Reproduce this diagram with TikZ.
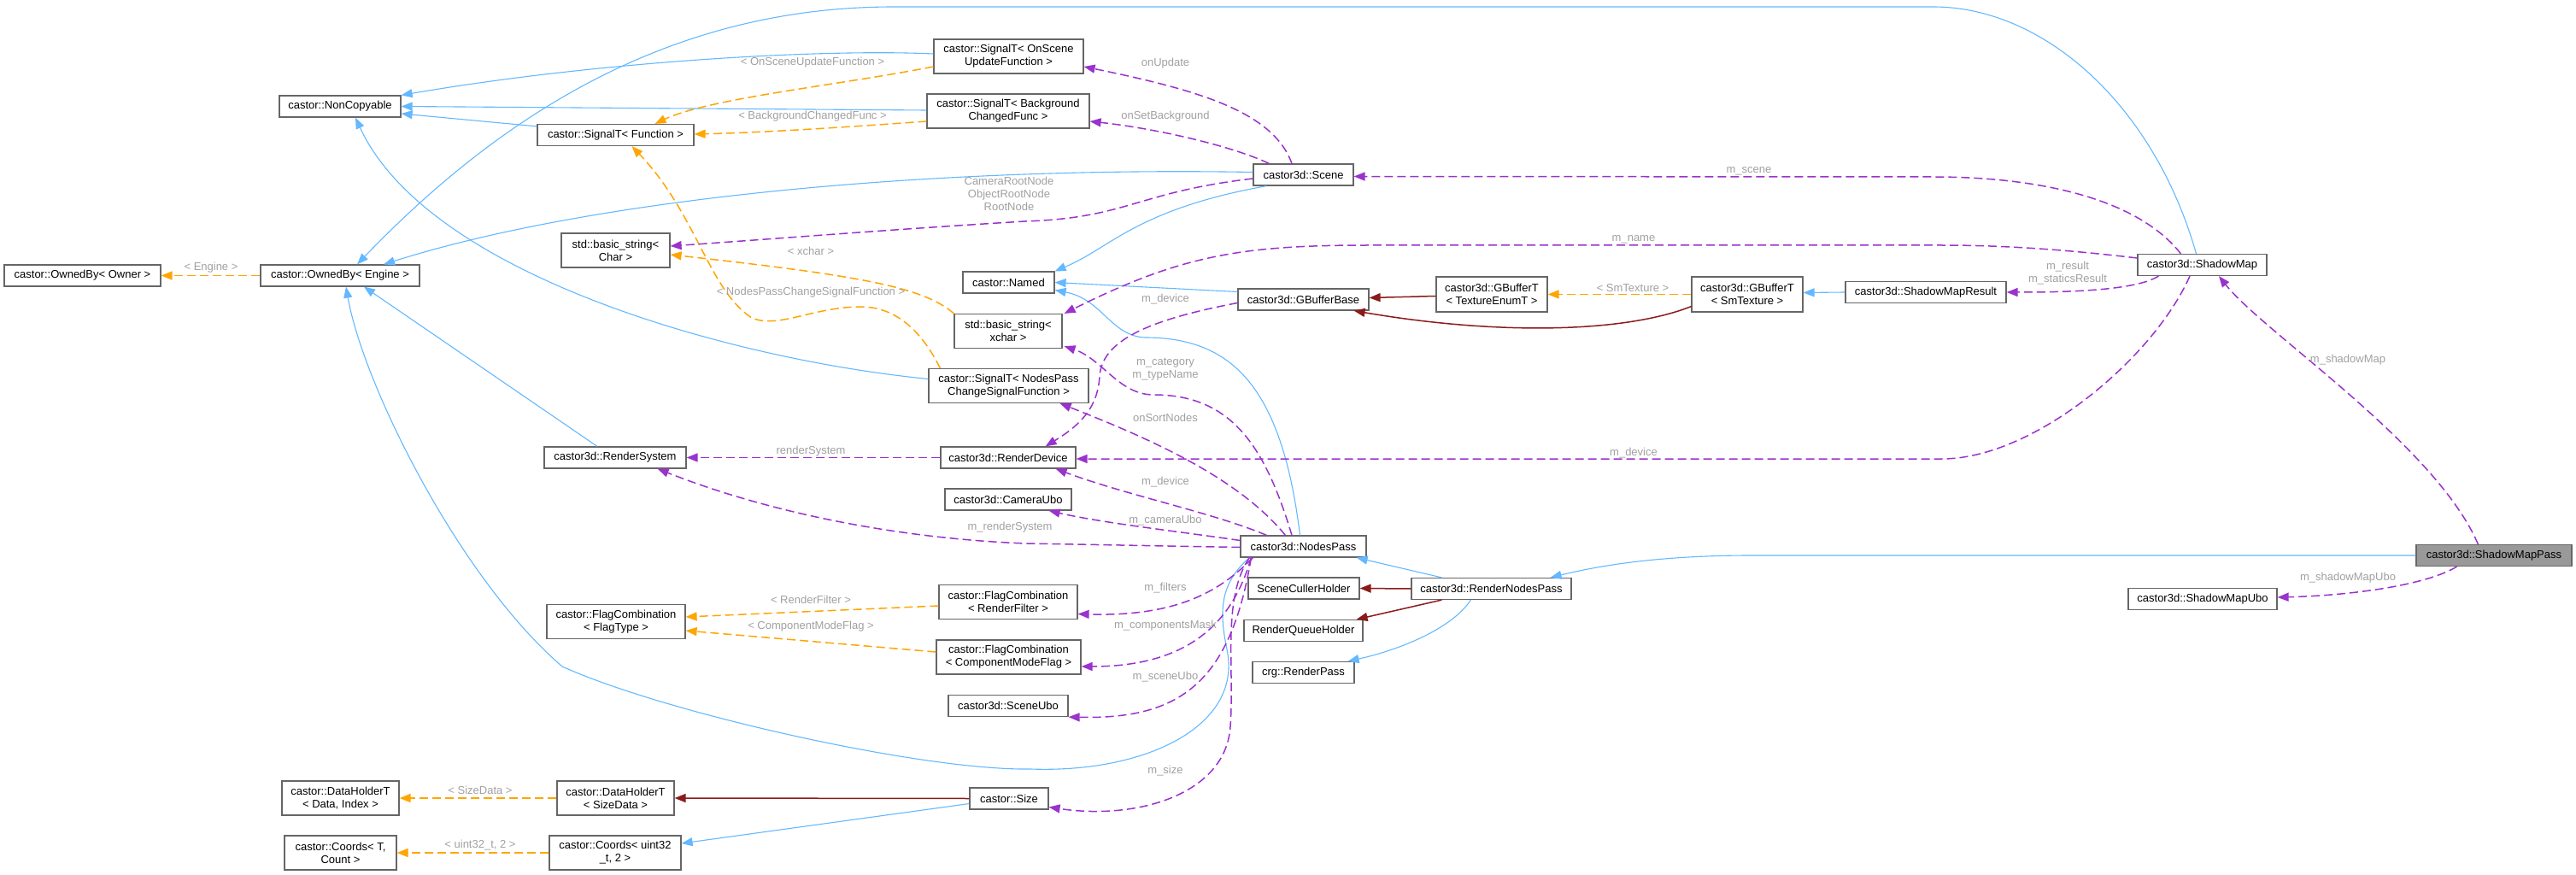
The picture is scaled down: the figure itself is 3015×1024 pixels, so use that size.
\documentclass[tikz,border=0pt]{standalone}
\usepackage{fontspec}
\setmainfont{Liberation Sans}
\usetikzlibrary{arrows.meta,calc}
\definecolor{inhblue}{HTML}{63B8FF}
\definecolor{privred}{HTML}{8B1A1A}
\definecolor{tmplorange}{HTML}{FFA500}
\definecolor{usepurple}{HTML}{9A32CD}
\definecolor{lblgray}{HTML}{A0A0A0}
\definecolor{boxborder}{HTML}{666666}
\definecolor{curfill}{HTML}{999999}
\tikzset{
  cls/.style={draw=boxborder, line width=1.2pt, fill=white, font=\fontsize{13}{15}\selectfont, align=center, inner sep=0pt, minimum height=25pt},
  cls2/.style={cls, minimum height=40pt},
  lbl/.style={font=\fontsize{13}{15}\selectfont, text=lblgray, align=center, inner sep=0pt},
  tipA/.style={-{Triangle[length=13pt,width=10pt]}},
  inh/.style={draw=inhblue, line width=1.1pt, tipA},
  priv/.style={draw=privred, line width=1.5pt, tipA},
  tmpl/.style={draw=tmplorange, line width=1.5pt, dash pattern=on 10pt off 5pt, tipA},
  usage/.style={draw=usepurple, line width=1.5pt, dash pattern=on 10pt off 5pt, tipA},
}
\begin{document}
\begin{tikzpicture}[x=1pt,y=-1pt]
\useasboundingbox (0,0) rectangle (3015,1024);

% ---------- nodes ----------
\node[cls, minimum width=183pt] (ownedOwner) at (96.5,322.5) {castor::OwnedBy< Owner >};
\node[cls, minimum width=186pt] (ownedEngine) at (398,322.5) {castor::OwnedBy< Engine >};
\node[cls, minimum width=142pt] (nonCopyable) at (398,124.5) {castor::NonCopyable};
\node[cls, minimum width=183pt] (sigFunc) at (720.5,158) {castor::SignalT< Function >};
\node[cls2, minimum width=127pt] (strChar) at (720.5,293) {std::basic\_string<\\Char >};
\node[cls, minimum width=166pt] (renderSystem) at (720,535.5) {castor3d::RenderSystem};
\node[cls2, minimum width=162pt] (flagType) at (721,727.5) {castor::FlagCombination\\< FlagType >};
\node[cls2, minimum width=137pt] (dataHolderDI) at (398.5,934) {castor::DataHolderT\\< Data, Index >};
\node[cls2, minimum width=137pt] (dataHolderSD) at (720.5,934) {castor::DataHolderT\\< SizeData >};
\node[cls2, minimum width=131pt] (coordsT) at (398.5,998) {castor::Coords< T,\\Count >};
\node[cls2, minimum width=154pt] (coordsU) at (720,998) {castor::Coords< uint32\\\_t, 2 >};
\node[cls2, minimum width=175pt] (sigOnScene) at (1180.5,66) {castor::SignalT< OnScene\\UpdateFunction >};
\node[cls2, minimum width=190pt] (sigBg) at (1180,130) {castor::SignalT< Background\\ChangedFunc >};
\node[cls, minimum width=107pt] (named) at (1180.5,330.5) {castor::Named};
\node[cls2, minimum width=126pt] (strXchar) at (1180,387.5) {std::basic\_string<\\xchar >};
\node[cls2, minimum width=187pt] (sigNodes) at (1180.5,451.5) {castor::SignalT< NodesPass\\ChangeSignalFunction >};
\node[cls, minimum width=158pt] (renderDevice) at (1180,535.5) {castor3d::RenderDevice};
\node[cls, minimum width=148pt] (cameraUbo) at (1180,584.5) {castor3d::CameraUbo};
\node[cls2, minimum width=162pt] (flagRF) at (1180,704.5) {castor::FlagCombination\\< RenderFilter >};
\node[cls2, minimum width=169pt] (flagCM) at (1180.5,769) {castor::FlagCombination\\< ComponentModeFlag >};
\node[cls, minimum width=140pt] (sceneUbo) at (1180,826) {castor3d::SceneUbo};
\node[cls, minimum width=92pt] (size) at (1181,934.5) {castor::Size};
\node[cls, minimum width=117pt] (scene) at (1525.5,204.5) {castor3d::Scene};
\node[cls, minimum width=153pt] (gbufferBase) at (1525.5,350.5) {castor3d::GBufferBase};
\node[cls, minimum width=147pt] (nodesPass) at (1525.5,639.5) {castor3d::NodesPass};
\node[cls, minimum width=130pt] (sceneCuller) at (1526,688.5) {SceneCullerHolder};
\node[cls, minimum width=139pt] (renderQueue) at (1525.5,738) {RenderQueueHolder};
\node[cls, minimum width=119pt] (renderPass) at (1525.5,787) {crg::RenderPass};
\node[cls2, minimum width=130pt, minimum height=41pt] (gbufferTE) at (1746,344.5) {castor3d::GBufferT\\< TextureEnumT >};
\node[cls2, minimum width=130pt, minimum height=41pt] (gbufferSm) at (2045,344.5) {castor3d::GBufferT\\< SmTexture >};
\node[cls, minimum width=188pt] (smResult) at (2254,342) {castor3d::ShadowMapResult};
\node[cls, minimum width=151pt] (shadowMap) at (2577.5,310) {castor3d::ShadowMap};
\node[cls, minimum width=187pt] (renderNodesPass) at (1745.5,689) {castor3d::RenderNodesPass};
\node[cls, minimum width=182pt, fill=curfill] (smPass) at (2919,650) {castor3d::ShadowMapPass};
\node[cls, minimum width=174pt] (smUbo) at (2578,701) {castor3d::ShadowMapUbo};

% ---------- public inheritance (blue) ----------
\draw[inh] ($(sigOnScene.west)+(0,-3)$) .. controls (960,57) and (700,72) .. (nonCopyable.north east);
\draw[inh] ($(sigBg.west)+(0,-1)$) -- (nonCopyable.east);
\draw[inh] ($(sigFunc.north west)+(0,3)$) -- ($(nonCopyable.east)+(0,8.5)$);
\draw[inh] ($(sigNodes.west)+(0,-8)$) .. controls (850,420) and (500,320) .. ($(nonCopyable.south)+(18,0)$);
\draw[inh] ($(scene.west)+(0,-3)$) .. controls (1100,195) and (700,230) .. ($(ownedEngine.north)+(51,0)$);
\draw[inh] ($(shadowMap.north)+(-7,0)$) .. controls (2520,120) and (2390,8) .. (2263,8) -- (1046,8) .. controls (800,8) and (600,120) .. ($(ownedEngine.north)+(20,0)$);
\draw[inh] ($(scene.south west)+(16,0)$) .. controls (1330,245) and (1300,290) .. (named.north east);
\draw[inh] ($(gbufferBase.west)+(0,-9)$) -- (named.east);
\draw[inh] ($(nodesPass.north)+(-4,0)$) .. controls (1500,450) and (1440,395) .. (1340,395) .. controls (1300,393) and (1290,350) .. ($(named.east)+(0,9)$);
\draw[inh] ($(renderSystem.north)+(-21,0)$) -- ($(ownedEngine.south)+(28,0)$);
\draw[inh] ($(nodesPass.south west)+(11,0)$) .. controls (1425,685) and (1428,720) .. (1436,760) .. controls (1455,850) and (1340,905) .. (1206,900) .. controls (1080,902) and (780,835) .. (658,780) .. controls (538,677) and (425,450) .. ($(ownedEngine.south)+(7,0)$);
\draw[inh] (smResult.west) -- ($(gbufferSm.east)+(0,-2)$);
\draw[inh] ($(renderNodesPass.north west)+(36,0)$) -- ($(nodesPass.south east)+(-12,0)$);
\draw[inh] ($(renderNodesPass.south west)+(70,0)$) .. controls (1700,735) and (1640,760) .. ($(renderPass.north east)+(-8,0)$);
\draw[inh] (smPass.west) -- (2050,650) .. controls (1950,650) and (1880,660) .. ($(renderNodesPass.north east)+(-25,0)$);
\draw[inh] ($(size.west)+(0,6)$) -- ($(coordsU.east)+(0,-11)$);

% ---------- private inheritance (dark red) ----------
\draw[priv] ($(gbufferTE.west)+(0,2)$) -- ($(gbufferBase.east)+(0,-2)$);
\draw[priv] ($(gbufferSm.south west)+(0,-7)$) .. controls (1900,390) and (1750,392) .. ($(gbufferBase.south east)+(-18,0)$);
\draw[priv] (renderNodesPass.west) -- (sceneCuller.east);
\draw[priv] ($(renderNodesPass.south west)+(36,0)$) -- ($(renderQueue.north east)+(-8,0)$);
\draw[priv] (size.west) -- (dataHolderSD.east);

% ---------- template instances (orange) ----------
\draw[tmpl] (ownedEngine.west) -- (ownedOwner.east);
\draw[tmpl] ($(sigOnScene.west)+(0,12)$) .. controls (980,100) and (830,115) .. ($(sigFunc.north)+(46,0)$);
\draw[tmpl] ($(sigBg.west)+(0,12)$) .. controls (1000,148) and (900,155) .. ($(sigFunc.east)+(0,-1)$);
\draw[tmpl] ($(sigNodes.north west)+(14,0)$) .. controls (1080,390) and (1050,358) .. (1005,359) .. controls (950,360) and (910,385) .. (880,372) .. controls (830,340) and (815,250) .. ($(sigFunc.south)+(19,0)$);
\draw[tmpl] (strXchar.north west) .. controls (1080,335) and (1000,322) .. ($(strChar.east)+(0,5)$);
\draw[tmpl] (gbufferSm.west) -- (gbufferTE.east);
\draw[tmpl] ($(flagRF.west)+(0,4.5)$) -- ($(flagType.east)+(0,-5.5)$);
\draw[tmpl] ($(flagCM.west)+(0,-6)$) -- ($(flagType.east)+(0,10.5)$);
\draw[tmpl] (dataHolderSD.west) -- (dataHolderDI.east);
\draw[tmpl] (coordsU.west) -- (coordsT.east);

% ---------- usage (purple) ----------
\draw[usage] ($(scene.north)+(-13.5,0)$) .. controls (1490,130) and (1400,105) .. ($(sigOnScene.east)+(0,12)$);
\draw[usage] ($(scene.north west)+(19,0)$) .. controls (1440,170) and (1350,150) .. ($(sigBg.east)+(0,12)$);
\draw[usage] ($(scene.west)+(0,4.5)$) .. controls (1330,225) and (1320,255) .. (1200,259) .. controls (1050,268) and (900,280) .. ($(strChar.east)+(0,-5)$);
\draw[usage] ($(shadowMap.north west)+(51,0)$) .. controls (2500,230) and (2380,207) .. (2263,207) -- ($(scene.east)+(0,2)$);
\draw[usage] ($(shadowMap.west)+(0,-8)$) .. controls (2400,290) and (2330,287) .. (2273,287) -- (1600,287) .. controls (1450,287) and (1380,300) .. ($(strXchar.north east)+(2,0)$);
\draw[usage] ($(gbufferBase.west)+(0,4)$) .. controls (1340,375) and (1290,400) .. (1287,440) .. controls (1285,480) and (1260,500) .. ($(renderDevice.north east)+(-36,0)$);
\draw[usage] ($(shadowMap.south west)+(25,0)$) .. controls (2500,340) and (2420,342) .. (smResult.east);
\draw[usage] ($(shadowMap.south)+(-14.5,0)$) .. controls (2520,420) and (2380,537) .. (2273,537) -- ($(renderDevice.east)+(0,1.5)$);
\draw[usage] ($(smPass.north west)+(73,0)$) .. controls (2850,520) and (2650,390) .. ($(shadowMap.south)+(19.5,0)$);
\draw[usage] ($(smPass.south west)+(48,0)$) .. controls (2840,685) and (2750,697) .. ($(smUbo.east)+(0,-2)$);
\draw[usage] ($(nodesPass.north)+(-13.5,0)$) .. controls (1480,520) and (1440,462) .. (1350,462) .. controls (1310,462) and (1290,420) .. ($(strXchar.south east)+(2,-3)$);
\draw[usage] ($(nodesPass.north west)+(53,0)$) .. controls (1450,560) and (1350,515) .. ($(sigNodes.south east)+(-34,0)$);
\draw[usage] ($(nodesPass.north west)+(31,0)$) .. controls (1420,600) and (1320,580) .. ($(renderDevice.south east)+(-24,0)$);
\draw[usage] ($(nodesPass.west)+(0,-7)$) .. controls (1380,622) and (1290,612) .. ($(cameraUbo.south east)+(-27,0)$);
\draw[usage] ($(nodesPass.west)+(0,1)$) -- (1200,636) .. controls (1050,630) and (900,600) .. ($(renderSystem.south east)+(-34,0)$);
\draw[usage] ($(nodesPass.south west)+(15,0)$) .. controls (1430,690) and (1380,722) .. ($(flagRF.east)+(0,14)$);
\draw[usage] ($(nodesPass.south west)+(13,0)$) .. controls (1445,720) and (1400,780) .. ($(flagCM.east)+(0,11)$);
\draw[usage] ($(nodesPass.south west)+(13,0)$) .. controls (1440,800) and (1380,842) .. (sceneUbo.south east);
\draw[usage] ($(nodesPass.south west)+(11,0)$) .. controls (1430,700) and (1445,780) .. (1440,850) .. controls (1435,930) and (1330,960) .. ($(size.east)+(0,10)$);
\draw[usage] (renderDevice.west) -- (renderSystem.east);

% ---------- edge labels ----------
\node[lbl] (l1) at (247,313) {< Engine >};
\node[lbl] (l2) at (951,73) {< OnSceneUpdateFunction >};
\node[lbl] (l3) at (951,136) {< BackgroundChangedFunc >};
\node[lbl] (l4) at (1364,74) {onUpdate};
\node[lbl] (l5) at (1364,136) {onSetBackground};
\node[lbl] (l6) at (1181,227) {CameraRootNode\\ObjectRootNode\\RootNode};
\node[lbl] (l7) at (949,294) {< xchar >};
\node[lbl] (l8) at (949,342) {< NodesPassChangeSignalFunction >};
\node[lbl] (l9) at (1364,350) {m\_device};
\node[lbl] (l10) at (2047,200) {m\_scene};
\node[lbl] (l11) at (1912,280) {m\_name};
\node[lbl] (l12) at (2420,320) {m\_result\\m\_staticsResult};
\node[lbl] (l13) at (1911,337) {< SmTexture >};
\node[lbl] (l14) at (1364,432) {m\_category\\m\_typeName};
\node[lbl] (l15) at (1364,489) {onSortNodes};
\node[lbl] (l16) at (949,528) {renderSystem};
\node[lbl] (l17) at (1364,564) {m\_device};
\node[lbl] (l18) at (1364,609) {m\_cameraUbo};
\node[lbl] (l19) at (1182,617) {m\_renderSystem};
\node[lbl] (l20) at (1912,530) {m\_device};
\node[lbl] (l21) at (2748,421) {m\_shadowMap};
\node[lbl] (l22) at (2748,676) {m\_shadowMapUbo};
\node[lbl] (l23) at (1364,688) {m\_filters};
\node[lbl] (l24) at (949,702) {< RenderFilter >};
\node[lbl] (l25) at (949,733) {< ComponentModeFlag >};
\node[lbl] (l26) at (1364,732) {m\_componentsMask};
\node[lbl] (l27) at (1364,792) {m\_sceneUbo};
\node[lbl] (l28) at (1364,902) {m\_size};
\node[lbl] (l29) at (562,925) {< SizeData >};
\node[lbl] (l30) at (562,989) {< uint32\_t, 2 >};
\end{tikzpicture}
\end{document}
